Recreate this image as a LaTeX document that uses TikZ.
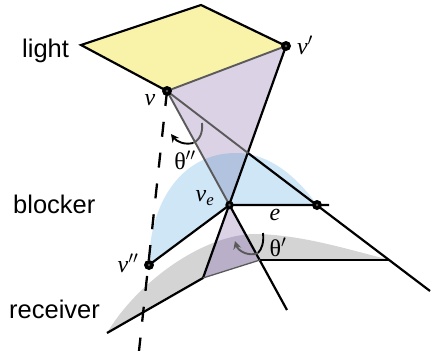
\documentclass[tikz,border=0pt]{standalone}
\usetikzlibrary{arrows.meta}
\usepackage{fontspec}
\setmainfont{Liberation Sans}
\newfontfamily\lab{Liberation Serif}
\definecolor{lightY}{HTML}{F8F3A8}
\definecolor{purp}{HTML}{DBD2E6}
\definecolor{blu}{HTML}{CFE6F7}
\definecolor{blupurp}{HTML}{B2C3E0}
\definecolor{gry}{HTML}{D4D4D4}
\definecolor{grypurp}{HTML}{B9AFC8}
\definecolor{edgegray}{HTML}{5A5A5A}
\tikzset{
  x=1pt,y=-1pt,
  edgeline/.style={draw=black,line width=2.2pt,line cap=butt,line join=miter},
  inshade/.style={draw=edgegray,line width=1.9pt},
  dashline/.style={draw=black,line width=2.3pt,dash pattern=on 15pt off 16pt},
  vertexdot/.style={circle,fill=black,inner sep=0pt,minimum size=10pt,path picture={\fill[edgegray] (path picture bounding box.center) circle (1.4pt);}},
  tag/.style={font=\fontsize{25.5}{27}\selectfont,anchor=base west,inner sep=0pt},
  sym/.style={font=\lab\itshape\fontsize{24}{26}\selectfont,inner sep=0pt},
  ang/.style={font=\lab\fontsize{24}{26}\selectfont,inner sep=0pt},
}
\begin{document}
\begin{tikzpicture}
\useasboundingbox (0,0) rectangle (432,351);
\coordinate (L) at (81,45);
\coordinate (T) at (201,5);
\coordinate (Vp) at (286,46);
\coordinate (V) at (167,91);
\coordinate (Ve) at (229.5,205);
\coordinate (Er) at (317,205);
\coordinate (Eend) at (329,205);
\coordinate (Vpp) at (149,265);
\coordinate (Ra) at (203,278);
\coordinate (Rb) at (260,260);
\coordinate (Rc) at (390,260);
\coordinate (Rl) at (107,333);
\coordinate (C1) at (248,153);
\coordinate (Send) at (287,310);
\coordinate (Lend) at (430,291);
\coordinate (Dend) at (139,351);
\coordinate (A1) at (202,123);
\coordinate (A2) at (171,134);
\coordinate (A3) at (263,233);
\coordinate (A4) at (235,241);
% fills
\fill[lightY] (L)--(T)--(Vp)--(V)--cycle;
\def\blueshape{(Vpp) .. controls (149,205) and (180,153) .. (236,153) .. controls (270,153) and (298,178) .. (Er) -- (Ve) -- cycle}
\def\grayshape{(Rl) .. controls (136,284) and (200,236) .. (253,234) .. controls (300,234) and (350,250) .. (Rc) -- (Rb) -- (Ra) -- cycle}
\fill[blu] \blueshape;
\fill[gry] \grayshape;
\fill[purp] (V)--(Vp)--(Ve)--cycle;
\fill[purp] (Ve)--(Ra)--(Rb)--cycle;
\begin{scope}
  \clip \blueshape;
  \fill[blupurp] (V)--(Vp)--(Ve)--cycle;
\end{scope}
\begin{scope}
  \clip \grayshape;
  \fill[grypurp] (Ve)--(Ra)--(Rb)--cycle;
\end{scope}
% edges
\draw[edgeline] (V)--(L)--(T)--(Vp);
\draw[edgeline] (Vp)--(Ra)--(Rl);
\draw[edgeline] (Vpp)--(Ve)--(Eend);
\draw[edgeline] (Rb)--(Rc);
\draw[edgeline] (C1)--(Lend);
\draw[edgeline] (Ve)--(Send);
\draw[dashline] (V)--(Dend);
% edges seen through the translucent purple
\draw[inshade] (V)--(Vp);
\draw[inshade] (V)--(Ve);
\draw[inshade] (V)--(C1);
\draw[inshade,line width=1.3pt] (Ra)--(Rb);
% angle marks
\draw[inshade] (A1) .. controls (203,132) and (200,140) .. (193,143);
\draw[draw=black,line width=1.9pt,-{Stealth[length=8pt,width=8pt]}] (193,143) .. controls (185,145) and (177,142) .. (A2);
\draw[draw=black,line width=1.9pt] (A3) .. controls (264,242) and (262,249) .. (258,253);
\draw[inshade,-{Stealth[length=8pt,width=8pt]}] (258,253) .. controls (249,257) and (238,251) .. (A4);
% vertices
\node[vertexdot] (nV) at (V) {};
\node[vertexdot] (nVp) at (Vp) {};
\node[vertexdot,minimum size=8.5pt] (nVe) at (Ve) {};
\node[vertexdot] (nEr) at (Er) {};
\node[vertexdot] (nVpp) at (Vpp) {};
% labels
\node[tag] (tl) at (22,57) {light};
\node[tag] (tb) at (13,213) {blocker};
\node[tag] (tr) at (9,318) {receiver};
\node[sym] (lv) at (150,100) {v};
\node[sym] (lvp) at (305,45) {v$'$};
\node[sym] (lvpp) at (128,263) {v$''$};
\node[sym] (lve) at (205,198) {v\textsubscript{e}};
\node[sym] (le) at (275,215) {e};
\node[ang] (tp) at (278,247) {θ$'$};
\node[ang] (tpp) at (185,160) {θ$''$};
\end{tikzpicture}
\end{document}
